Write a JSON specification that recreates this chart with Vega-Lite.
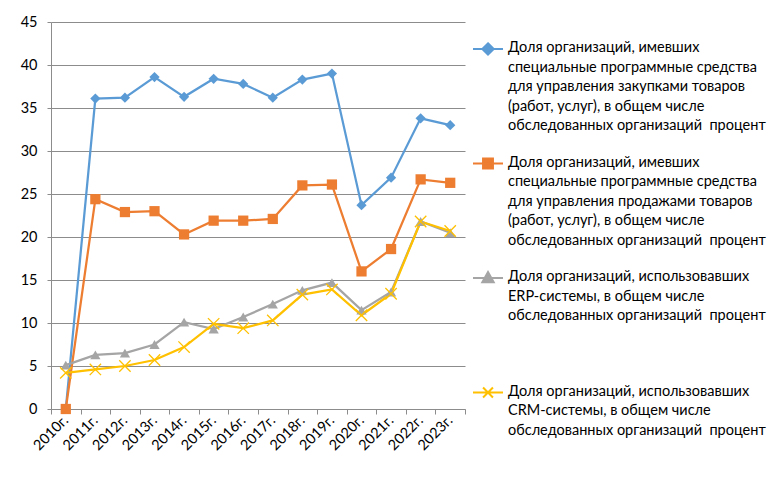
{
  "$schema": "https://vega.github.io/schema/vega-lite/v6.json",
  "width": 414,
  "height": 387,
  "autosize": {"type": "none"},
  "padding": {"left": 51, "top": 22, "right": 315, "bottom": 81},
  "background": "white",
  "config": {
    "font": "Lato",
    "view": {"stroke": null},
    "axis": {"labelFont": "Lato", "labelFontSize": 14.5, "labelColor": "#000000", "domainColor": "#8c8c8c", "tickColor": "#8c8c8c", "gridColor": "#8c8c8c", "title": null}
  },
  "datasets": {
    "names": [
      {"s": "A", "o": 1, "name": "Доля организаций, имевших\nспециальные программные средства\nдля управления закупками товаров\n(работ, услуг), в общем числе\nобследованных организаций \u00a0процент"},
      {"s": "B", "o": 2, "name": "Доля организаций, имевших\nспециальные программные средства\nдля управления продажами товаров\n(работ, услуг), в общем числе\nобследованных организаций \u00a0процент"},
      {"s": "C", "o": 3, "name": "Доля организаций, использовавших\nERP-системы, в общем числе\nобследованных организаций \u00a0процент"},
      {"s": "D", "o": 4, "name": "Доля организаций, использовавших\nCRM-системы, в общем числе\nобследованных организаций \u00a0процент"}
    ],
    "rows": [
      {"year": "2010г.", "s": "A", "value": 0}, {"year": "2011г.", "s": "A", "value": 36.1}, {"year": "2012г.", "s": "A", "value": 36.2}, {"year": "2013г.", "s": "A", "value": 38.6}, {"year": "2014г.", "s": "A", "value": 36.3}, {"year": "2015г.", "s": "A", "value": 38.4}, {"year": "2016г.", "s": "A", "value": 37.8}, {"year": "2017г.", "s": "A", "value": 36.2}, {"year": "2018г.", "s": "A", "value": 38.3}, {"year": "2019г.", "s": "A", "value": 39.0}, {"year": "2020г.", "s": "A", "value": 23.7}, {"year": "2021г.", "s": "A", "value": 26.9}, {"year": "2022г.", "s": "A", "value": 33.8}, {"year": "2023г.", "s": "A", "value": 33.0},
      {"year": "2010г.", "s": "B", "value": 0}, {"year": "2011г.", "s": "B", "value": 24.4}, {"year": "2012г.", "s": "B", "value": 22.9}, {"year": "2013г.", "s": "B", "value": 23.0}, {"year": "2014г.", "s": "B", "value": 20.3}, {"year": "2015г.", "s": "B", "value": 21.9}, {"year": "2016г.", "s": "B", "value": 21.9}, {"year": "2017г.", "s": "B", "value": 22.1}, {"year": "2018г.", "s": "B", "value": 26.0}, {"year": "2019г.", "s": "B", "value": 26.1}, {"year": "2020г.", "s": "B", "value": 16.0}, {"year": "2021г.", "s": "B", "value": 18.6}, {"year": "2022г.", "s": "B", "value": 26.7}, {"year": "2023г.", "s": "B", "value": 26.3},
      {"year": "2010г.", "s": "C", "value": 5.1}, {"year": "2011г.", "s": "C", "value": 6.3}, {"year": "2012г.", "s": "C", "value": 6.5}, {"year": "2013г.", "s": "C", "value": 7.5}, {"year": "2014г.", "s": "C", "value": 10.1}, {"year": "2015г.", "s": "C", "value": 9.3}, {"year": "2016г.", "s": "C", "value": 10.7}, {"year": "2017г.", "s": "C", "value": 12.2}, {"year": "2018г.", "s": "C", "value": 13.8}, {"year": "2019г.", "s": "C", "value": 14.7}, {"year": "2020г.", "s": "C", "value": 11.5}, {"year": "2021г.", "s": "C", "value": 13.6}, {"year": "2022г.", "s": "C", "value": 21.8}, {"year": "2023г.", "s": "C", "value": 20.5},
      {"year": "2010г.", "s": "D", "value": 4.2}, {"year": "2011г.", "s": "D", "value": 4.6}, {"year": "2012г.", "s": "D", "value": 5.0}, {"year": "2013г.", "s": "D", "value": 5.7}, {"year": "2014г.", "s": "D", "value": 7.2}, {"year": "2015г.", "s": "D", "value": 9.9}, {"year": "2016г.", "s": "D", "value": 9.4}, {"year": "2017г.", "s": "D", "value": 10.3}, {"year": "2018г.", "s": "D", "value": 13.3}, {"year": "2019г.", "s": "D", "value": 13.9}, {"year": "2020г.", "s": "D", "value": 10.9}, {"year": "2021г.", "s": "D", "value": 13.4}, {"year": "2022г.", "s": "D", "value": 21.8}, {"year": "2023г.", "s": "D", "value": 20.7}
    ]
  },
  "data": {"name": "rows"},
  "transform": [
    {"lookup": "s", "from": {"data": {"name": "names"}, "key": "s", "fields": ["name", "o"]}}
  ],
  "encoding": {
    "x": {
      "field": "year", "type": "ordinal", "bandPosition": 0.5,
      "scale": {"type": "band", "paddingInner": 0, "paddingOuter": 0},
      "axis": {"labelAngle": -45, "labelAlign": "right", "labelBaseline": "middle", "tickBand": "extent", "grid": false, "tickSize": 5, "labelPadding": 4}
    },
    "y": {
      "field": "value", "type": "quantitative",
      "scale": {"domain": [0, 45], "nice": false},
      "axis": {"values": [0, 5, 10, 15, 20, 25, 30, 35, 40, 45], "grid": true, "tickSize": 4, "labelPadding": 10}
    }
  },
  "layer": [
    {
      "mark": {"type": "line", "strokeWidth": 2.25},
      "encoding": {
        "color": {
          "field": "name", "type": "nominal",
          "sort": {"field": "o", "op": "min"},
          "scale": {"range": ["#5B9BD5", "#ED7D31", "#A5A5A5", "#FFC000"]},
          "legend": {
            "title": null,
            "orient": "none",
            "legendX": 421,
            "legendY": 11,
            "symbolSize": 900,
            "symbolStrokeWidth": 2,
            "labelFont": "Lato",
            "labelFontSize": 14.5,
            "labelColor": "#000000",
            "labelLimit": 400,
            "labelOffset": 4,
            "labelBaseline": "top",
            "rowPadding": 14.5,
            "labelExpr": "length(split(datum.label, '\\n')) < 5 ? split(datum.label + '\\n \\n ', '\\n') : split(datum.label, '\\n')",
            "encode": {
              "symbols": {
                "update": {
                  "shape": {"signal": "datum.index == 0 ? 'M-1,0H1M0,-0.38L0.38,0L0,0.38L-0.38,0Z' : datum.index == 1 ? 'M-1,0H1M-0.33,-0.33H0.33V0.33H-0.33Z' : datum.index == 2 ? 'M-1,0H1M0,-0.4L0.38,0.28H-0.38Z' : 'M-1,0H1M-0.33,-0.33L0.33,0.33M-0.33,0.33L0.33,-0.33'"},
                  "fill": {"signal": "scale('color', datum.value)"}
                }
              },
              "labels": {
                "update": {
                  "lineHeight": {"value": 19.5},
                  "dy": {"value": -8}
                }
              }
            }
          }
        }
      }
    },
    {
      "transform": [{"filter": "datum.s != 'D'"}],
      "mark": {"type": "point", "filled": true, "opacity": 1, "size": 105},
      "encoding": {
        "color": {"field": "name", "type": "nominal", "sort": {"field": "o", "op": "min"}},
        "shape": {
          "field": "name", "type": "nominal",
          "sort": {"field": "o", "op": "min"},
          "scale": {"range": ["diamond", "square", "triangle-up"]},
          "legend": null
        }
      }
    },
    {
      "transform": [{"filter": "datum.s == 'D'"}],
      "mark": {"type": "point", "shape": "M-1,-1L1,1M-1,1L1,-1", "filled": false, "opacity": 1, "size": 130, "strokeWidth": 1.3, "color": "#FFC000"}
    }
  ]
}
